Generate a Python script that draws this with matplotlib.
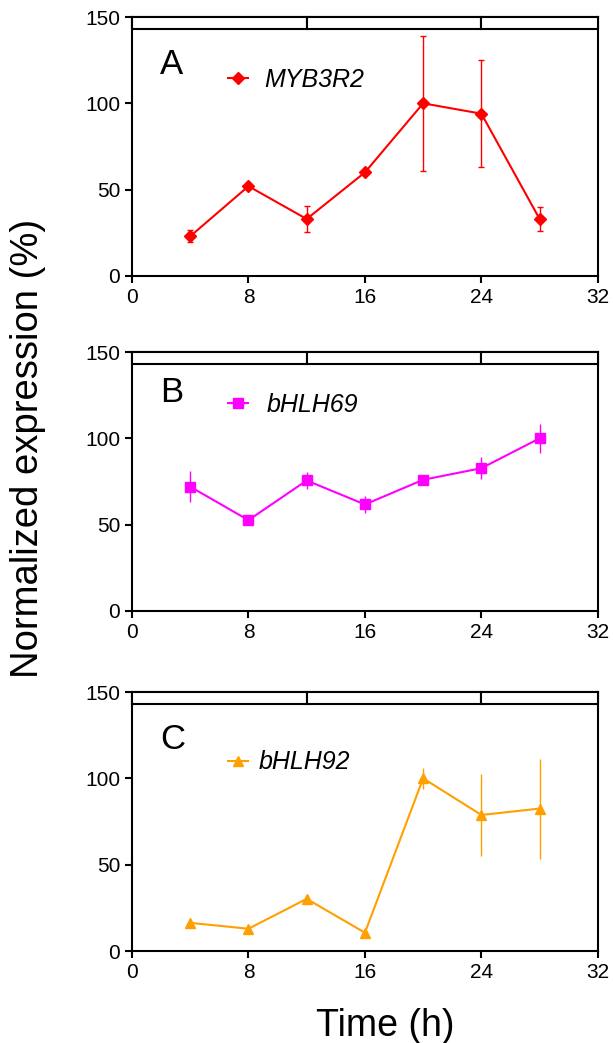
import matplotlib.pyplot as plt
from matplotlib.patches import Rectangle

plt.rcParams['font.family'] = ['Liberation Sans', 'DejaVu Sans']

hours = [4, 8, 12, 16, 20, 24, 28]
myb3r2 = [23, 52, 33, 60, 100, 94, 33]
myb3r2_err = [3.4, 1.5, 7.7, 1.0, 39, 31, 7]
bhlh69 = [72, 52.6, 75.6, 61.7, 76, 82.7, 100]
bhlh69_err = [9, 1.5, 5, 5, 2, 6.5, 8.5]
bhlh92 = [16.3, 12.9, 30.2, 10.6, 100, 78.8, 82.5]
bhlh92_err = [2, 1, 1.5, 1, 6, 24, 29]

band_edges = [0, 12, 24, 32]
x_ticks = [0, 8, 16, 24, 32]
y_ticks = [0, 50, 100, 150]

# letter, gene, values, errors, colour, marker, markersize, capsize,
# letter y, legend y, legend text pad
panels = [
    ('A', 'MYB3R2', myb3r2, myb3r2_err, '#ff0000', 'D', 6, 2, 0.815, 0.757, 0.66),
    ('B', 'bHLH69', bhlh69, bhlh69_err, '#ff00ff', 's', 7, 0, 0.842, 0.795, 0.74),
    ('C', 'bHLH92', bhlh92, bhlh92_err, '#ffa000', '^', 7.5, 0, 0.815, 0.728, 0.43),
]

fig = plt.figure(figsize=(6.13, 10.43), dpi=100)
tops = [0.9837, 0.6625, 0.3365]
height = 0.2483

for (letter, gene, vals, errs, color, marker, ms, cap, ly, gy, pad), top in zip(panels, tops):
    ax = fig.add_axes([0.2153, top - height, 0.760, height])
    ax.errorbar(hours, vals, yerr=errs, color=color, fmt='none',
                elinewidth=1, capsize=cap, capthick=1)
    ax.plot(hours, vals, color=color, marker=marker, markersize=ms,
            linewidth=1.5, label=gene)
    # light/dark band on top
    for x0, x1 in zip(band_edges[:-1], band_edges[1:]):
        ax.add_patch(Rectangle((x0, 143), x1 - x0, 7, facecolor='white',
                               edgecolor='black', linewidth=1.5, zorder=3, clip_on=False))
    ax.set_xlim(0, 32)
    ax.set_ylim(0, 150)
    ax.set_xticks(x_ticks)
    ax.set_yticks(y_ticks)
    ax.tick_params(direction='out', length=5, width=1.5, labelsize=15)
    for s in ax.spines.values():
        s.set_linewidth(1.5)
    ax.text(0.06, ly, letter, transform=ax.transAxes, fontsize=25, va='center')
    ax.legend(loc='center left', bbox_to_anchor=(0.206, gy), frameon=False,
              prop={'style': 'italic', 'size': 18}, handlelength=0.8,
              handletextpad=pad, borderaxespad=0, borderpad=0)

fig.text(0.046, 0.5705, 'Normalized expression (%)', rotation=90, fontsize=27.5,
         ha='center', va='center')
fig.text(0.628, 0.007, 'Time (h)', fontsize=27, ha='center', va='baseline')

fig.savefig('out.png', dpi=100)
